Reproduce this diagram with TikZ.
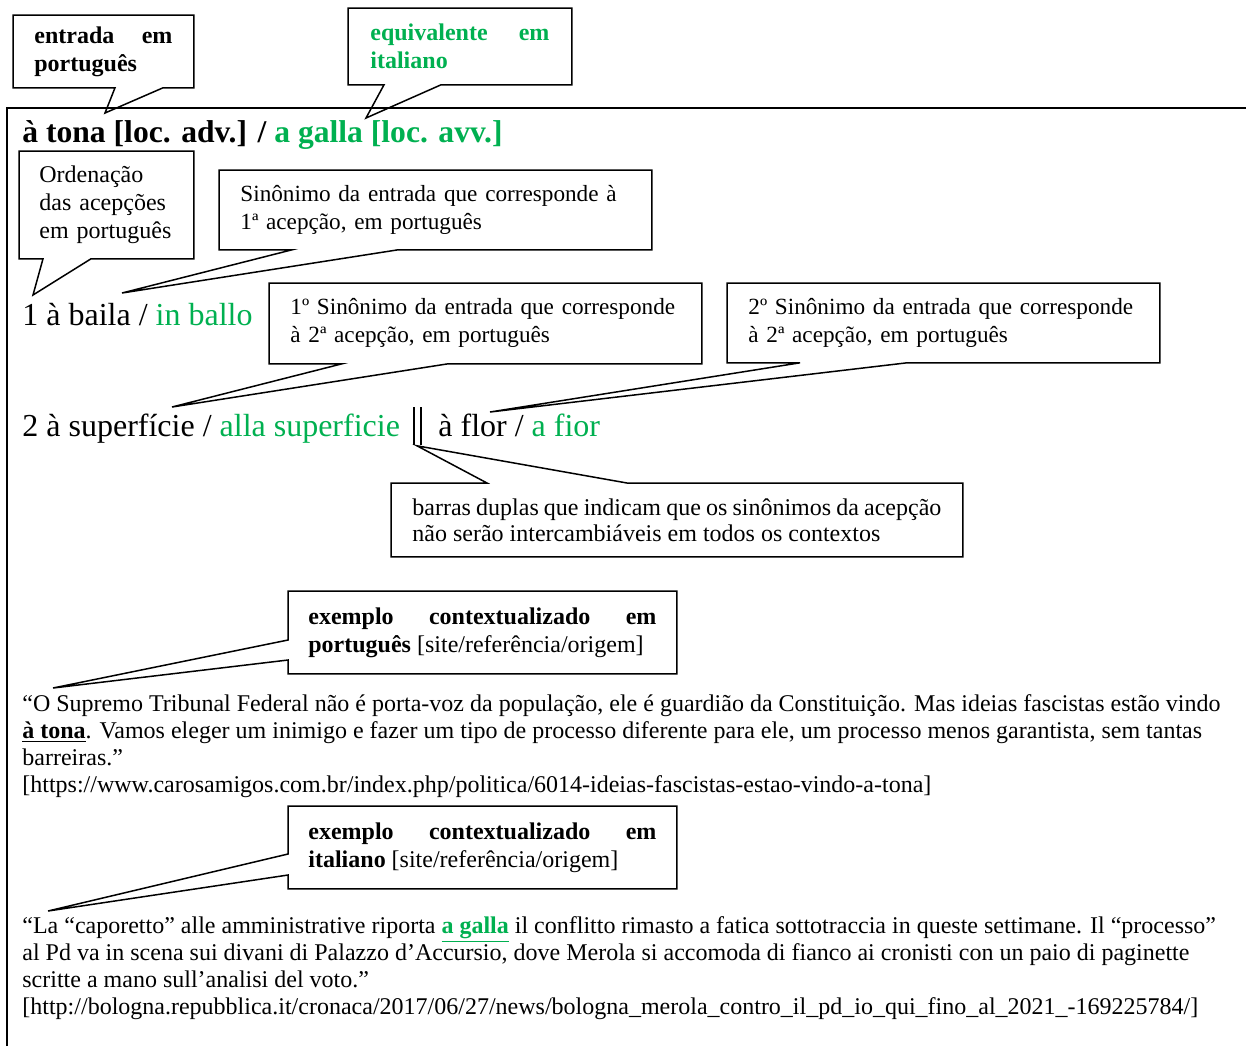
\documentclass[tikz,border=0pt]{standalone}
\usepackage{fontspec}
\setmainfont{Liberation Serif}
\usetikzlibrary{calc}
\definecolor{italianoColor}{RGB}{0,176,80}
\hyphenpenalty=10000
\exhyphenpenalty=10000
\tolerance=9999
\tikzset{caixa/.style={anchor=north west, inner xsep=10.5pt, inner ysep=0pt, align=left, font=\fontsize{12}{14}\selectfont}}
\tikzset{caixaJust/.style={caixa, align=justify}}
\tikzset{caixaSinonimo/.style={caixa, text width=195pt, minimum width=216pt, font=\fontsize{11.6}{14}\selectfont}}
\tikzset{balao/.style={draw, line width=0.75pt, line join=miter}}
\tikzset{verbete/.style={anchor=base west, inner sep=0pt, font=\fontsize{16}{19}\selectfont}}
\tikzset{exemplo/.style={anchor=base west, inner sep=0pt, align=left, font=\fontsize{12}{13.5}\selectfont}}

\begin{document}
\begin{tikzpicture}[x=0.5pt, y=-0.5pt]
\useasboundingbox (0,0) rectangle (1246,1046);
% Moldura
\draw[line width=1pt] (7,1046) -- (7,108) -- (1246,108);

% Verbete
\node (titulo) [verbete, font=\fontsize{15.8}{19}\selectfont\bfseries] at (22,142) {à tona [loc. adv.] / \textcolor{italianoColor}{a galla [loc. avv.]}};
\node (baila) [verbete] at (22,325) {1 à baila / \textcolor{italianoColor}{in ballo}};
\node (superficie) [verbete] at (22,436) {2 à superfície / \textcolor{italianoColor}{alla superficie}};
\node (barras) [anchor=north west, inner sep=0pt] at (413,407) {\rule{1pt}{19pt}\hspace{2.5pt}\rule{1pt}{19pt}};
\node (flor) [verbete] at (438,436) {à flor / \textcolor{italianoColor}{a fior}};

% Caixas
\node (entrada) [caixaJust, text width=69pt, minimum width=90pt, minimum height=36pt, font=\fontsize{12}{14}\selectfont\bfseries] at (13,15) {entrada em\linebreak português};
\node (equivalente) [caixaJust, text width=89.5pt, minimum width=111.5pt, minimum height=38pt, font=\fontsize{12}{14}\selectfont\bfseries\color{italianoColor}] at (348,8) {equivalente em\linebreak italiano};
\node (ordenacao) [caixa, inner xsep=10pt, text width=67pt, minimum width=87pt, minimum height=53.5pt] at (19,151) {Ordenação\\das acepções\\em português};
\node (sinonimoUm) [caixaSinonimo, minimum height=39.5pt] at (219,170) {\mbox{Sinônimo da entrada que corresponde à}\\1ª acepção, em português};
\node (sinonimoDoisA) [caixaSinonimo, minimum height=40pt] at (269,283) {\mbox{1º Sinônimo da entrada que corresponde}\\à 2ª acepção, em português};
\node (sinonimoDoisB) [caixaSinonimo, minimum height=39.5pt] at (727,283) {\mbox{2º Sinônimo da entrada que corresponde}\\à 2ª acepção, em português};
\node (barrasNota) [caixaJust, text width=264.5pt, minimum width=285.5pt, minimum height=36.5pt, font=\fontsize{12}{13}\selectfont] at (391,483) {barras duplas que indicam que os sinônimos da acepção\linebreak não serão intercambiáveis em todos os contextos};
\node (exemploPT) [caixaJust, inner xsep=10pt, text width=174pt, minimum width=194pt, minimum height=41pt] at (288,591) {\textbf{exemplo contextualizado em}\linebreak \textbf{português} [site/referência/origem]};
\node (exemploIT) [caixaJust, inner xsep=10pt, text width=174pt, minimum width=194pt, minimum height=41pt] at (288,806) {\textbf{exemplo contextualizado em}\linebreak \textbf{italiano} [site/referência/origem]};

% Exemplos (ancorados na ultima linha)
\node (textoPT) [exemplo] at (22,792) {“O Supremo Tribunal Federal não é porta-voz da população, ele é guardião da Constituição. Mas ideias fascistas estão vindo\\\underline{\textbf{à tona}}. Vamos eleger um inimigo e fazer um tipo de processo diferente para ele, um processo menos garantista, sem tantas\\barreiras.”\\{}[https://www.carosamigos.com.br/index.php/politica/6014-ideias-fascistas-estao-vindo-a-tona]};
\node (textoIT) [exemplo] at (22,1014) {“La “caporetto” alle amministrative riporta \textcolor{italianoColor}{\underline{\textbf{a galla}}} il conflitto rimasto a fatica sottotraccia in queste settimane. Il “processo”\\al Pd va in scena sui divani di Palazzo d’Accursio, dove Merola si accomoda di fianco ai cronisti con un paio di paginette\\scritte a mano sull’analisi del voto.”\\{}[http://bologna.repubblica.it/cronaca/2017/06/27/news/bologna\_merola\_contro\_il\_pd\_io\_qui\_fino\_al\_2021\_-169225784/]};

% Pontas dos baloes
\coordinate (pontaEntrada) at (105,113);
\coordinate (pontaEquivalente) at (366,118);
\coordinate (pontaOrdenacao) at (33,295);
\coordinate (pontaSinonimoUm) at (122,293);
\coordinate (pontaSinonimoDoisA) at (172,407);
\coordinate (pontaSinonimoDoisB) at (490,412);
\coordinate (pontaBarras) at ($(barras.south west)+(4,0)$);
\coordinate (pontaExemploPT) at (53,688);
\coordinate (pontaExemploIT) at (48,911);

% Baloes
\draw[balao] (entrada.south west) -- (entrada.north west) -- (entrada.north east) -- (entrada.south east) -- ($(entrada.south west)+(150,0)$) -- (pontaEntrada) -- ($(entrada.south west)+(102,0)$) -- cycle;
\draw[balao] (equivalente.south west) -- (equivalente.north west) -- (equivalente.north east) -- (equivalente.south east) -- ($(equivalente.south west)+(93,0)$) -- (pontaEquivalente) -- ($(equivalente.south west)+(36,0)$) -- cycle;
\draw[balao] (ordenacao.south west) -- (ordenacao.north west) -- (ordenacao.north east) -- (ordenacao.south east) -- ($(ordenacao.south west)+(72,0)$) -- (pontaOrdenacao) -- ($(ordenacao.south west)+(24,0)$) -- cycle;
\draw[balao] (sinonimoUm.south west) -- (sinonimoUm.north west) -- (sinonimoUm.north east) -- (sinonimoUm.south east) -- ($(sinonimoUm.south west)+(179,0)$) -- (pontaSinonimoUm) -- ($(sinonimoUm.south west)+(73,0)$) -- cycle;
\draw[balao] (sinonimoDoisA.south west) -- (sinonimoDoisA.north west) -- (sinonimoDoisA.north east) -- (sinonimoDoisA.south east) -- ($(sinonimoDoisA.south west)+(179,0)$) -- (pontaSinonimoDoisA) -- ($(sinonimoDoisA.south west)+(73,0)$) -- cycle;
\draw[balao] (sinonimoDoisB.south west) -- (sinonimoDoisB.north west) -- (sinonimoDoisB.north east) -- (sinonimoDoisB.south east) -- ($(sinonimoDoisB.south west)+(180,0)$) -- (pontaSinonimoDoisB) -- ($(sinonimoDoisB.south west)+(73,0)$) -- cycle;
\draw[balao] (barrasNota.north west) -- ($(barrasNota.north west)+(96,0)$) -- (pontaBarras) -- ($(barrasNota.north west)+(236,0)$) -- (barrasNota.north east) -- (barrasNota.south east) -- (barrasNota.south west) -- cycle;
\draw[balao] (exemploPT.north west) -- (exemploPT.north east) -- (exemploPT.south east) -- (exemploPT.south west) -- ($(exemploPT.north west)+(0,69)$) -- (pontaExemploPT) -- ($(exemploPT.north west)+(0,49)$) -- cycle;
\draw[balao] (exemploIT.north west) -- (exemploIT.north east) -- (exemploIT.south east) -- (exemploIT.south west) -- ($(exemploIT.north west)+(0,69)$) -- (pontaExemploIT) -- ($(exemploIT.north west)+(0,48)$) -- cycle;
\end{tikzpicture}
\end{document}
